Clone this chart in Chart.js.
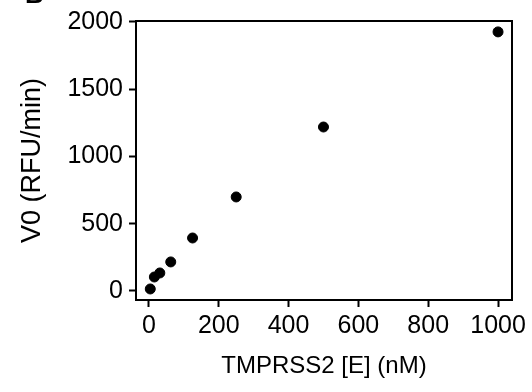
<!DOCTYPE html>
<html>
<head>
<meta charset="utf-8">
<title>TMPRSS2 V0</title>
<script src="https://cdn.jsdelivr.net/npm/chart.js@4.4.1/dist/chart.umd.min.js"></script>
<style>
    html, body { margin: 0; padding: 0; background: #fff; }
    #wrap { width: 532px; height: 392px; position: relative; }
</style>
</head>
<body>
<div id="wrap"><canvas id="chart"></canvas></div>
<script>
// Enzyme concentration (nM) and initial velocity (RFU/min)
const enzymeConc = [3.9, 15.6, 31.25, 62.5, 125, 250, 500, 1000];
const velocity = [15, 104, 134, 216, 394, 699, 1219, 1926];

// Tick labels
const xTicks = [0, 200, 400, 600, 800, 1000];
const yTicks = [0, 500, 1000, 1500, 2000];

const FONT = '"Liberation Sans", Arial, Helvetica, sans-serif';

// Close the box: top and right edges of the plot area, plus the cut panel letter
const frameBox = {
    id: 'frameBox',
    afterDraw: function(chart) {
        const ctx = chart.ctx;
        const a = chart.chartArea;
        ctx.save();
        ctx.strokeStyle = '#000';
        ctx.lineWidth = 2;
        ctx.beginPath();
        ctx.moveTo(a.left - 1, a.top);
        ctx.lineTo(a.right, a.top);
        ctx.lineTo(a.right, a.bottom + 1);
        ctx.stroke();
        ctx.fillStyle = '#000';
        ctx.font = 'bold 26px ' + FONT;
        ctx.textBaseline = 'alphabetic';
        ctx.fillText('B', 25, 3);
        ctx.restore();
    }
};

// Plain numbers, no thousands separator
const plainLabel = v => String(v);

new Chart(document.getElementById('chart'), {
    type: 'scatter',
    data: {
        datasets: [{
            data: enzymeConc.map((x, i) => ({ x: x, y: velocity[i] })),
            backgroundColor: '#000',
            borderColor: '#000',
            pointRadius: 5,
            pointHoverRadius: 5
        }]
    },
    options: {
        responsive: true,
        maintainAspectRatio: false,
        animation: false,
        layout: { padding: { left: 0, top: 21, right: 20, bottom: 0 } },
        plugins: { legend: { display: false }, tooltip: { enabled: false } },
        scales: {
            x: {
                type: 'linear',
                min: -37,
                max: 1040,
                afterBuildTicks: function(scale) {
                    scale.ticks = xTicks.map(v => ({ value: v }));
                },
                afterFit: function(scale) { scale.height = 92; },
                grid: { drawOnChartArea: false, tickLength: 7, tickWidth: 2, tickColor: '#000' },
                border: { color: '#000', width: 2 },
                ticks: { color: '#000', padding: 4, callback: plainLabel, font: { family: FONT, size: 25 } },
                title: {
                    display: true,
                    text: 'TMPRSS2 [E] (nM)',
                    color: '#000',
                    font: { family: FONT, size: 24 },
                    padding: { top: 0, bottom: 11 }
                }
            },
            y: {
                type: 'linear',
                min: -67,
                max: 2007,
                afterBuildTicks: function(scale) {
                    scale.ticks = yTicks.map(v => ({ value: v }));
                },
                afterFit: function(scale) { scale.width = 136; },
                grid: { drawOnChartArea: false, tickLength: 7, tickWidth: 2, tickColor: '#000' },
                border: { color: '#000', width: 2 },
                ticks: { color: '#000', padding: 6, callback: plainLabel, font: { family: FONT, size: 25 } },
                title: {
                    display: true,
                    text: 'V0 (RFU/min)',
                    color: '#000',
                    font: { family: FONT, size: 27 },
                    padding: { top: 16, bottom: 0 }
                }
            }
        }
    },
    plugins: [frameBox]
});
</script>
</body>
</html>
